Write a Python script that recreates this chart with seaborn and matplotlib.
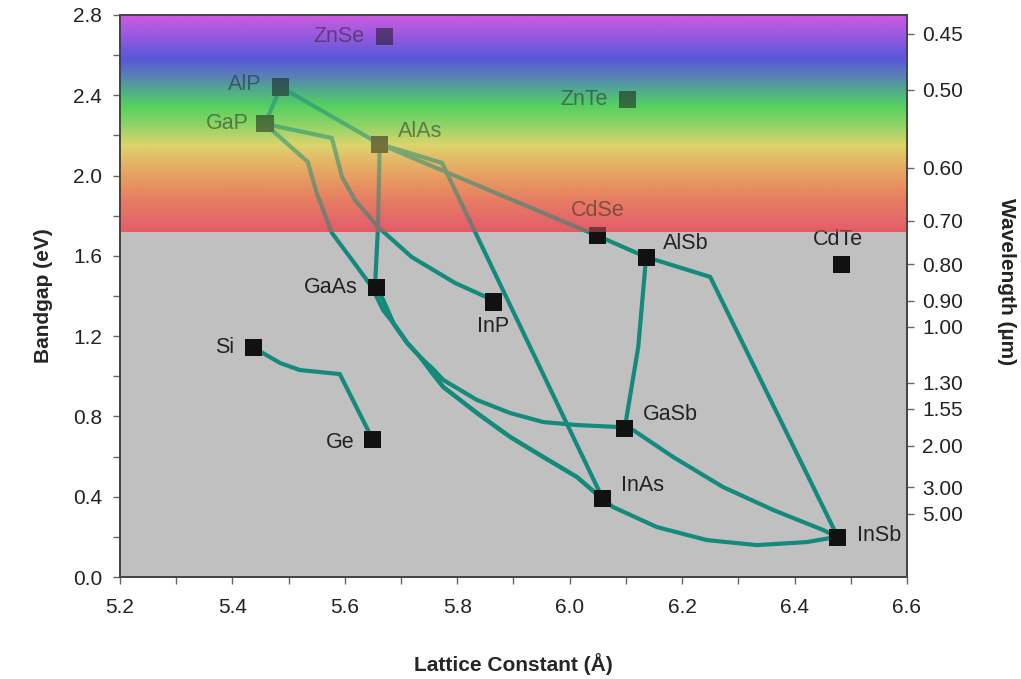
import numpy as np
import pandas as pd
import seaborn as sns
import matplotlib
matplotlib.use("Agg")
import matplotlib.pyplot as plt
from matplotlib.colors import LinearSegmentedColormap

# --- data ---
materials = ["ZnSe", "AlP", "GaP", "AlAs", "ZnTe", "CdSe", "AlSb", "CdTe",
             "GaAs", "InP", "Si", "Ge", "GaSb", "InAs", "InSb"]
lattice = [5.67, 5.486, 5.458, 5.662, 6.102, 6.050, 6.136, 6.484,
           5.657, 5.864, 5.438, 5.650, 6.098, 6.059, 6.477]
bandgap = [2.695, 2.441, 2.257, 2.157, 2.377, 1.699, 1.594, 1.555,
           1.440, 1.370, 1.141, 0.683, 0.742, 0.389, 0.199]

# alloy curves (lattice, bandgap) points
si_ge = [(5.438, 1.141), (5.454, 1.116), (5.485, 1.066), (5.520, 1.031), (5.591, 1.011), (5.650, 0.683)]
alp_gap = [(5.486, 2.441), (5.458, 2.257)]
alp_alas = [(5.486, 2.441), (5.662, 2.157)]
alas_alsb = [(5.662, 2.157), (6.050, 1.699), (6.136, 1.594)]
alas_inas = [(5.662, 2.157), (5.773, 2.063), (6.059, 0.389)]
gap_inp = [(5.458, 2.257), (5.577, 2.187), (5.595, 1.993), (5.618, 1.878), (5.659, 1.744),
           (5.719, 1.594), (5.796, 1.465), (5.855, 1.390), (5.864, 1.370)]
gap_inas = [(5.458, 2.257), (5.534, 2.068), (5.550, 1.913), (5.577, 1.714), (5.613, 1.579),
            (5.648, 1.445), (5.668, 1.330), (5.686, 1.266), (5.711, 1.166), (5.734, 1.096),
            (5.757, 1.011), (5.775, 0.947), (5.835, 0.817), (5.894, 0.698), (5.953, 0.598),
            (6.013, 0.498), (6.054, 0.399), (6.059, 0.389)]
alas_gaas = [(5.662, 2.157), (5.659, 1.744), (5.654, 1.465), (5.657, 1.440)]
gaas_gasb = [(5.657, 1.440), (5.668, 1.380), (5.686, 1.266), (5.711, 1.166), (5.734, 1.096),
             (5.757, 1.036), (5.775, 0.982), (5.835, 0.882), (5.894, 0.817), (5.953, 0.772),
             (6.013, 0.757), (6.089, 0.747), (6.098, 0.742)]
gaas_inas = [(5.657, 1.440), (5.668, 1.380), (5.686, 1.266), (5.711, 1.166), (5.734, 1.096),
             (5.757, 1.011), (5.775, 0.947), (5.835, 0.817), (5.894, 0.698), (5.953, 0.598),
             (6.013, 0.498), (6.054, 0.399), (6.059, 0.389)]
inas_insb = [(6.059, 0.389), (6.077, 0.349), (6.155, 0.249), (6.244, 0.184), (6.333, 0.159),
             (6.422, 0.174), (6.463, 0.194), (6.477, 0.199)]
gasb_insb = [(6.098, 0.742), (6.113, 0.732), (6.184, 0.598), (6.273, 0.448), (6.362, 0.334),
             (6.451, 0.234), (6.477, 0.199)]
alsb_gasb = [(6.136, 1.594), (6.122, 1.146), (6.098, 0.742)]
alsb_insb = [(6.136, 1.594), (6.250, 1.495), (6.477, 0.199)]

curves = {"Si-Ge": si_ge, "AlP-GaP": alp_gap, "AlP-AlAs": alp_alas, "AlAs-AlSb": alas_alsb,
          "AlAs-InAs": alas_inas, "GaP-InP": gap_inp, "GaP-InAs": gap_inas, "AlAs-GaAs": alas_gaas,
          "GaAs-GaSb": gaas_gasb, "GaAs-InAs": gaas_inas, "InAs-InSb": inas_insb,
          "GaSb-InSb": gasb_insb, "AlSb-GaSb": alsb_gasb, "AlSb-InSb": alsb_insb}

# right axis: wavelength labels and where they sit on the bandgap scale
wl_labels = ["0.45", "0.50", "0.60", "0.70", "0.80", "0.90", "1.00",
             "1.30", "1.55", "2.00", "3.00", "5.00"]
wl_gap = [2.706, 2.427, 2.038, 1.774, 1.559, 1.375, 1.246, 0.967, 0.837, 0.653, 0.448, 0.314]

visible_edge = 1.72  # bottom of the visible-light band (eV)

# label offsets in points (dx, dy, ha)
label_pos = {"ZnSe": (-14, 0, "right"), "AlP": (-14, 1.5, "right"), "GaP": (-12, 0, "right"),
             "AlAs": (13, 9, "left"), "ZnTe": (-14, 0, "right"), "CdSe": (0, 18, "center"),
             "AlSb": (12, 10, "left"), "CdTe": (-3, 18, "center"), "GaAs": (-14, 0, "right"),
             "InP": (0, -18, "center"), "Si": (-14, 0, "right"), "Ge": (-13, -2, "right"),
             "GaSb": (13, 10, "left"), "InAs": (13, 10, "left"), "InSb": (14, 1, "left")}

rows = []
for name, pts in curves.items():
    for i, (x, y) in enumerate(pts):
        rows.append({"curve": name, "order": i, "lattice": x, "gap": y})
curves_df = pd.DataFrame(rows)
points_df = pd.DataFrame({"material": materials, "lattice": lattice, "gap": bandgap})

sns.set_theme(style="ticks")
plt.rcParams["font.family"] = ["Liberation Sans", "DejaVu Sans"]

rainbow = LinearSegmentedColormap.from_list("vis", [
    (0.00, "#e25c62"), (0.03, "#e4636a"), (0.15, "#e67e62"), (0.24, "#e89a62"),
    (0.33, "#e4b868"), (0.40, "#dcd46c"), (0.49, "#90d468"), (0.58, "#58d060"),
    (0.66, "#50a890"), (0.72, "#5a80b8"), (0.80, "#5858d8"), (0.91, "#9a5ae0"),
    (1.00, "#cc5ae0")])

fig = plt.figure(figsize=(10.21, 6.79), dpi=100)
ax = fig.add_axes([0.1175, 0.1502, 0.7708, 0.8278])
ax.set_facecolor("#c0c0c0")
grad = np.linspace(0, 1, 256).reshape(-1, 1)
ax.imshow(grad, extent=[5.2, 6.6, visible_edge, 2.8], origin="lower", aspect="auto",
          cmap=rainbow, zorder=0.5)

teal = "#138a7c"
sns.lineplot(data=curves_df, x="lattice", y="gap", units="curve", estimator=None,
             sort=False, color=teal, lw=3, ax=ax, zorder=2, legend=False,
             solid_joinstyle="round", solid_capstyle="round")
sns.scatterplot(data=points_df, x="lattice", y="gap", marker="s", s=150, color="#111111",
                edgecolor="none", linewidth=0, ax=ax, zorder=3, legend=False)

for name, x, y in zip(materials, lattice, bandgap):
    dx, dy, ha = label_pos[name]
    ax.annotate(name, (x, y), xytext=(dx, dy), textcoords="offset points", ha=ha,
                va="center", fontsize=15.5, color="#222222", zorder=4)

# translucent colour band over everything in the visible range
ax.imshow(grad, extent=[5.2, 6.6, visible_edge, 2.8], origin="lower", aspect="auto",
          cmap=rainbow, alpha=0.5, zorder=5)

ax.set_xlim(5.2, 6.6)
ax.set_ylim(0, 2.8)
ax.set_xticks(np.arange(5.2, 6.61, 0.2))
ax.set_xticklabels([f"{v:.1f}" for v in np.arange(5.2, 6.61, 0.2)])
ax.set_xticks(np.arange(5.2, 6.61, 0.1), minor=True)
ax.set_yticks(np.arange(0, 2.81, 0.4))
ax.set_yticklabels([f"{v:.1f}" for v in np.arange(0, 2.81, 0.4)])
ax.set_yticks(np.arange(0, 2.81, 0.2), minor=True)
ax.tick_params(which="both", direction="out", length=5, width=1, color="#666666",
               labelsize=15, labelcolor="#222222")
ax.tick_params(axis="x", pad=10)
ax.tick_params(axis="y", pad=8)
ax.set_xlabel("Lattice Constant (Å)", fontsize=15, fontweight="bold", labelpad=26)
ax.set_ylabel("Bandgap (eV)", fontsize=15, fontweight="bold", labelpad=14)

ax2 = ax.twinx()
ax2.set_ylim(0, 2.8)
ax2.set_yticks(wl_gap)
ax2.set_yticklabels(wl_labels)
ax2.tick_params(direction="out", length=5, width=1, color="#666666", labelsize=15,
                labelcolor="#222222", pad=6)
for a in (ax, ax2):
    for sp in a.spines.values():
        sp.set_color("#444444")
        sp.set_linewidth(1.3)

fig.text(0.986, 0.585, "Wavelength (µm)", rotation=270, ha="center", va="center",
         fontsize=15, fontweight="bold", color="#222222")

fig.savefig("out.png", dpi=100)
